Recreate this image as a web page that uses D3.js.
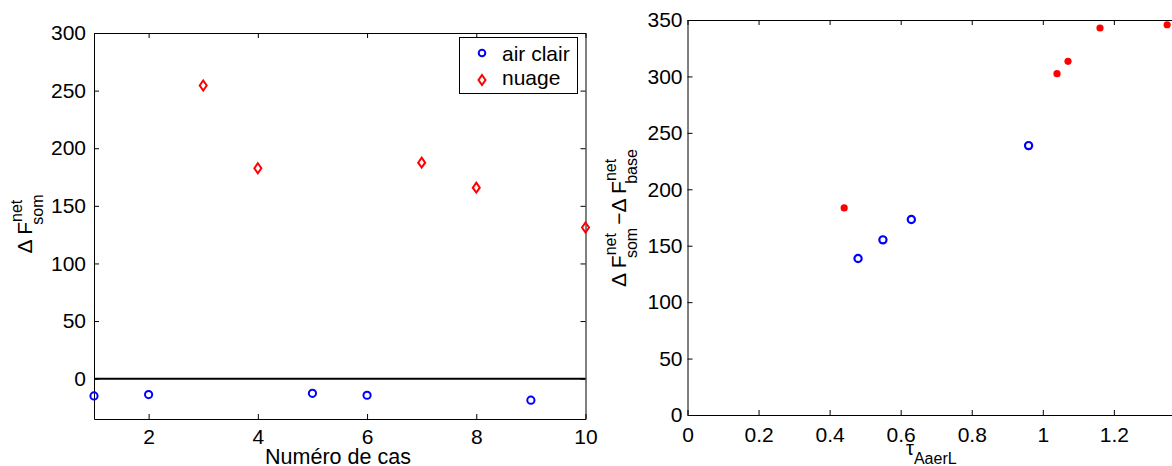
<!DOCTYPE html>
<html>
<head>
<meta charset="utf-8">
<script src="https://cdn.jsdelivr.net/npm/d3@7"></script>
<style>
  body { margin: 0; background: white; }
  svg { font-family: "Liberation Sans", Arial, Helvetica, sans-serif; }
</style>
</head>
<body>
<svg id="chart" width="1172" height="466"></svg>
<script>
// left panel: case number vs delta F
var casClair = [1, 2, 5, 6, 9];
var valClair = [-15, -13.8, -12.7, -14.4, -18.7];
var casNuage = [3, 4, 7, 8, 10];
var valNuage = [254.4, 182.6, 187.5, 165.8, 131.2];
var leftXTicks = [2, 4, 6, 8, 10];
var leftYTicks = [0, 50, 100, 150, 200, 250, 300];

// right panel: tau vs delta F difference
var tauClair = [0.48, 0.55, 0.63, 0.96];
var diffClair = [138.7, 155.2, 173.2, 238.7];
var tauNuage = [0.441, 1.04, 1.071, 1.161, 1.35];
var diffNuage = [183.5, 302.4, 313.4, 342.9, 345.8];
var rightXTicks = [0, 0.2, 0.4, 0.6, 0.8, 1, 1.2];
var rightYTicks = [0, 50, 100, 150, 200, 250, 300, 350];

var svg = d3.select("#chart");
var tickLen = 5;
var tickFont = 21;

function drawBox(g, x, y, xTicks, yTicks, fmtX, padX, padY) {
  var x0 = x.range()[0], x1 = x.range()[1];
  var y0 = y.range()[0], y1 = y.range()[1];

  g.append("g")
    .attr("transform", `translate(0,${y0})`)
    .call(d3.axisBottom(x).tickValues(xTicks).tickSize(-tickLen).tickSizeOuter(0)
      .tickPadding(padX).tickFormat(fmtX));
  g.append("g")
    .attr("transform", `translate(0,${y1})`)
    .call(d3.axisTop(x).tickValues(xTicks).tickSize(-tickLen).tickSizeOuter(0).tickFormat(""));
  g.append("g")
    .attr("transform", `translate(${x0},0)`)
    .call(d3.axisLeft(y).tickValues(yTicks).tickSize(-tickLen).tickSizeOuter(0).tickPadding(padY));
  g.append("g")
    .attr("transform", `translate(${x1},0)`)
    .call(d3.axisRight(y).tickValues(yTicks).tickSize(-tickLen).tickSizeOuter(0).tickFormat(""));

  g.selectAll(".tick text").attr("font-size", tickFont).attr("fill", "black")
    .attr("font-family", "'Liberation Sans', Arial, sans-serif");
  g.selectAll(".domain, .tick line").attr("stroke", "black").attr("stroke-width", 1);
}

// ---------- left panel ----------
var xL = d3.scaleLinear().domain([1, 10]).range([94, 585.5]);
var yL = d3.scaleLinear().domain([-35, 300]).range([419, 33]);
var gL = svg.append("g");

gL.append("line")
  .attr("x1", xL(1)).attr("x2", xL(10))
  .attr("y1", yL(0)).attr("y2", yL(0))
  .attr("stroke", "black").attr("stroke-width", 2);

drawBox(gL, xL, yL, leftXTicks, leftYTicks, d => d, 10, 8);

gL.selectAll(".clair")
  .data(casClair)
  .join("circle")
  .attr("cx", d => xL(d))
  .attr("cy", (d, i) => yL(valClair[i]))
  .attr("r", 3.6)
  .attr("fill", "none")
  .attr("stroke", "#0000ff")
  .attr("stroke-width", 2);

function diamond(cx, cy) {
  return `M${cx},${cy - 5}L${cx + 3.5},${cy}L${cx},${cy + 5}L${cx - 3.5},${cy}Z`;
}

gL.selectAll(".nuage")
  .data(casNuage)
  .join("path")
  .attr("d", (d, i) => diamond(xL(d), yL(valNuage[i])))
  .attr("fill", "none")
  .attr("stroke", "#ff0000")
  .attr("stroke-width", 2);

// legend
var leg = gL.append("g");
leg.append("rect")
  .attr("x", 459.5).attr("y", 37.5).attr("width", 118).attr("height", 56)
  .attr("fill", "white").attr("stroke", "black").attr("stroke-width", 1);
leg.append("circle").attr("cx", 482).attr("cy", 53).attr("r", 3.3)
  .attr("fill", "none").attr("stroke", "#0000ff").attr("stroke-width", 2);
leg.append("path").attr("d", diamond(482, 80))
  .attr("fill", "none").attr("stroke", "#ff0000").attr("stroke-width", 2);
leg.append("text").attr("x", 502).attr("y", 60.5).attr("font-size", 21).text("air clair");
leg.append("text").attr("x", 502).attr("y", 85).attr("font-size", 21).text("nuage");

// axis labels
gL.append("text")
  .attr("x", 338).attr("y", 464)
  .attr("text-anchor", "middle").attr("font-size", 21.5)
  .text("Numéro de cas");

var ylabL = gL.append("text")
  .attr("transform", "translate(32,224) rotate(-90)")
  .attr("text-anchor", "middle").attr("font-size", 21);
ylabL.append("tspan").text("Δ F");
ylabL.append("tspan").attr("font-size", 16).attr("dy", -10).text("net");
ylabL.append("tspan").attr("font-size", 16).attr("dx", -25).attr("dy", 21).text("som");

// ---------- right panel ----------
var xR = d3.scaleLinear().domain([0, 1.4]).range([687.5, 687.5 + 1.4 * 355.3]);
var yR = d3.scaleLinear().domain([0, 350]).range([415, 20]);
var gR = svg.append("g");

drawBox(gR, xR, yR, rightXTicks, rightYTicks, d => String(+d.toFixed(1)), 12, 5);

gR.selectAll(".clair")
  .data(tauClair)
  .join("circle")
  .attr("cx", d => xR(d))
  .attr("cy", (d, i) => yR(diffClair[i]))
  .attr("r", 3.6)
  .attr("fill", "none")
  .attr("stroke", "#0000ff")
  .attr("stroke-width", 2.2);

gR.selectAll(".nuage")
  .data(tauNuage)
  .join("circle")
  .attr("cx", d => xR(d))
  .attr("cy", (d, i) => yR(diffNuage[i]))
  .attr("r", 3.6)
  .attr("fill", "#ff0000");

var xlabR = gR.append("text")
  .attr("x", 906).attr("y", 455)
  .attr("font-size", 20);
xlabR.append("tspan").text("τ");
xlabR.append("tspan").attr("font-size", 16).attr("dy", 9).text("AaerL");

var ylabR = gR.append("text")
  .attr("transform", "translate(626,218) rotate(-90)")
  .attr("text-anchor", "middle").attr("font-size", 21);
ylabR.append("tspan").text("Δ F");
ylabR.append("tspan").attr("font-size", 16).attr("dy", -10).text("net");
ylabR.append("tspan").attr("font-size", 16).attr("dx", -25).attr("dy", 21).text("som");
ylabR.append("tspan").attr("dy", -11).attr("dx", 3).text("−Δ F");
ylabR.append("tspan").attr("font-size", 16).attr("dy", -10).text("net");
ylabR.append("tspan").attr("font-size", 16).attr("dx", -25).attr("dy", 21).text("base");
</script>
</body>
</html>
